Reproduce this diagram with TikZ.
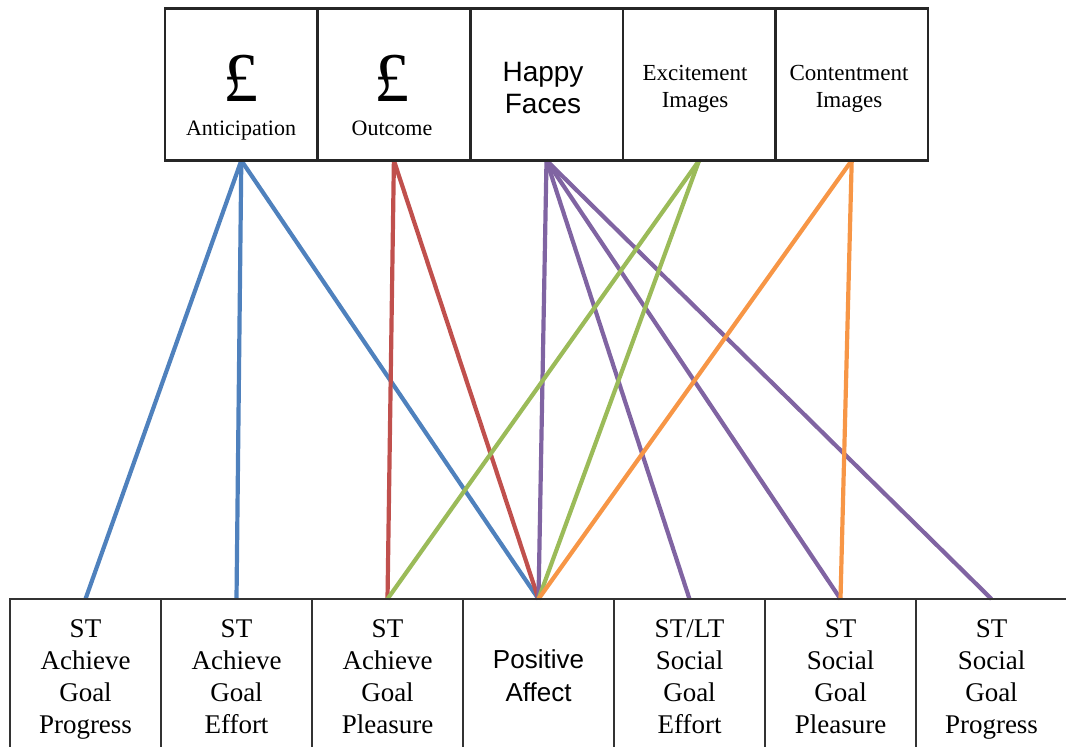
\documentclass[tikz,border=0pt]{standalone}
\usepackage{fontspec}
\setmainfont{Liberation Serif}
\newfontfamily\sansfont{Liberation Sans}
\usetikzlibrary{positioning, backgrounds}
\definecolor{LinkBlue}{RGB}{79,129,189}
\definecolor{LinkRed}{RGB}{192,80,77}
\definecolor{LinkGreen}{RGB}{155,187,89}
\definecolor{LinkPurple}{RGB}{128,100,162}
\definecolor{LinkOrange}{RGB}{247,150,70}

\begin{document}
\begin{tikzpicture}[x=0.5pt, y=-0.5pt,
  topbox/.style={draw=black!85, line width=1.3pt, minimum width=76.3pt,
                 minimum height=76pt, outer sep=0pt, inner sep=0pt, align=center},
  botbox/.style={draw=black!80, line width=1pt, minimum width=75.5pt,
                 minimum height=82pt, outer sep=0pt, inner sep=0pt, align=center,
                 font=\fontsize{13.5}{16}\selectfont,
                 execute at begin node=\strut, execute at end node=\strut},
  link/.style={line width=2.1pt}]
  \useasboundingbox (0,0) rectangle (1066,747);

  % Stimulus boxes
  \node[topbox] (ant) at (241.3,84.5) {};
  \node[topbox, right=0pt of ant] (out) {};
  \node[topbox, right=0pt of out] (happy) {};
  \node[topbox, right=0pt of happy] (excite) {};
  \node[topbox, right=0pt of excite] (content) {};
  \node[font=\fontsize{35}{35}\selectfont] (antsign) at (241,78.5) {£};
  \node[font=\fontsize{11}{11}\selectfont, text height=7pt, text depth=2pt] (antlabel)
        at (241,131) {Anticipation};
  \node[font=\fontsize{35}{35}\selectfont] (outsign) at (392,78.5) {£};
  \node[font=\fontsize{11}{11}\selectfont, text height=7pt, text depth=2pt] (outlabel)
        at (392,131) {Outcome};
  \node[font=\sansfont\fontsize{14}{16}\selectfont, align=center] (happytext)
        at (543,88) {Happy\\Faces};
  \node[font=\fontsize{11.5}{13.5}\selectfont, align=center] (excitetext)
        at (695,89) {Excitement\\Images};
  \node[font=\fontsize{11.5}{13.5}\selectfont, align=center] (contenttext)
        at (849,89) {Contentment\\Images};

  % Goal boxes
  \node[botbox] (aprog) at (85.5,681) {ST\\Achieve\\Goal\\Progress};
  \node[botbox, right=0pt of aprog] (aeffort) {ST\\Achieve\\Goal\\Effort};
  \node[botbox, right=0pt of aeffort] (apleas) {ST\\Achieve\\Goal\\Pleasure};
  \node[botbox, right=0pt of apleas, font=\sansfont\fontsize{13}{16.5}\selectfont] (affect)
        {Positive\\Affect};
  \node[botbox, right=0pt of affect] (seffort) {ST/LT\\Social\\Goal\\Effort};
  \node[botbox, right=0pt of seffort] (spleas) {ST\\Social\\Goal\\Pleasure};
  \node[botbox, right=0pt of spleas] (sprog) {ST\\Social\\Goal\\Progress};

  % Links
  \begin{scope}[on background layer]
    \draw[link, LinkBlue] (ant.south) -- (aprog.north);
    \draw[link, LinkBlue] (ant.south) -- (aeffort.north);
    \draw[link, LinkBlue] (ant.south) -- (affect.north);
    \draw[link, LinkRed] (out.south) -- (apleas.north);
    \draw[link, LinkRed] (out.south) -- (affect.north);
    \draw[link, LinkPurple] (happy.south) -- (affect.north);
    \draw[link, LinkPurple] (happy.south) -- (seffort.north);
    \draw[link, LinkPurple] (happy.south) -- (spleas.north);
    \draw[link, LinkPurple] (happy.south) -- (sprog.north);
    \draw[link, LinkGreen] (excite.south) -- (apleas.north);
    \draw[link, LinkGreen] (excite.south) -- (affect.north);
    \draw[link, LinkOrange] (content.south) -- (affect.north);
    \draw[link, LinkOrange] (content.south) -- (spleas.north);
  \end{scope}
\end{tikzpicture}
\end{document}
